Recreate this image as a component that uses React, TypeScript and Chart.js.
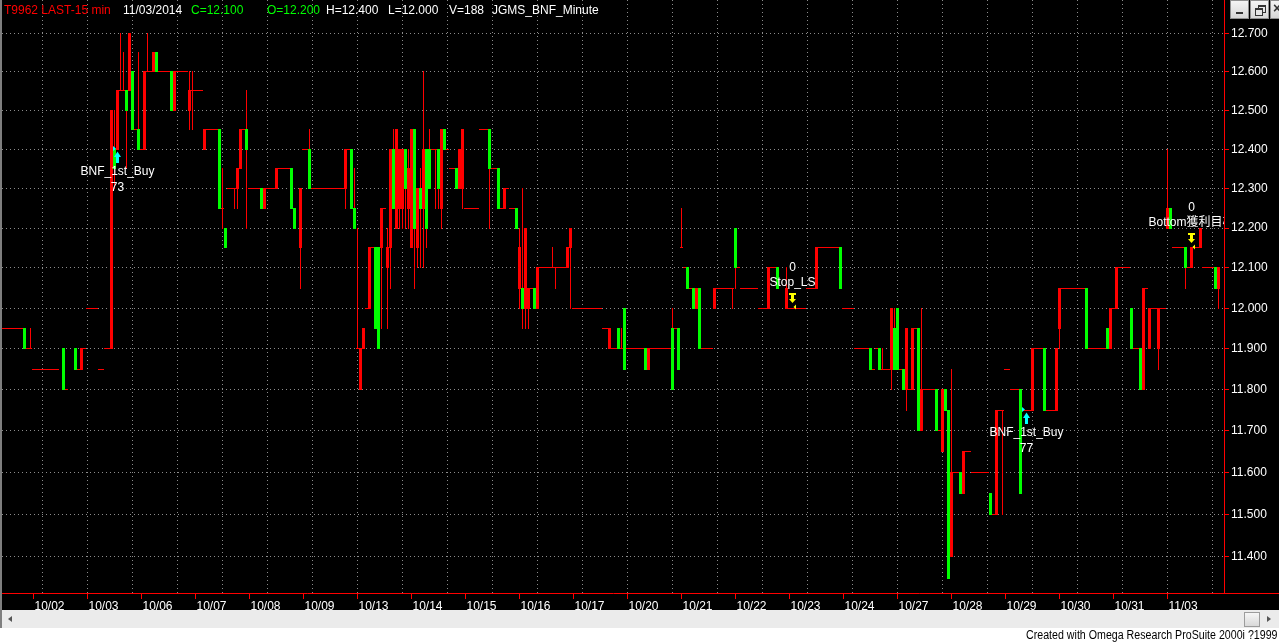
import React, { useEffect, useRef } from "react";
import { Chart, registerables } from "chart.js";

Chart.register(...registerables);

const W = 1279;
const H = 643;
const RED = "#ff0000";
const GREEN = "#00ff00";
const GRID = "#8c8c8c";
const FONT = '"Liberation Sans", Arial, "Noto Sans CJK TC", sans-serif';

// ---- axis data ----
const dayLabels = ["10/02", "10/03", "10/06", "10/07", "10/08", "10/09", "10/13", "10/14", "10/15", "10/16", "10/17",
  "10/20", "10/21", "10/22", "10/23", "10/24", "10/27", "10/28", "10/29", "10/30", "10/31", "11/03"];
const dayStartBars = [10, 28, 46, 64, 82, 100, 118, 136, 154, 172, 190, 208, 226, 244, 262, 280, 298, 316, 334, 352, 370, 388];
const gridBars = [13, 28, 43, 58, 73, 88, 103, 118, 133, 148, 163, 178, 193, 208, 223, 238, 253, 268, 283, 298, 313, 328, 343, 358, 373, 388, 403];
const priceTicks = [11.4, 11.5, 11.6, 11.7, 11.8, 11.9, 12.0, 12.1, 12.2, 12.3, 12.4, 12.5, 12.6, 12.7];
const priceMin = 11.3155;
const priceMax = 12.7875;
const barMin = -0.5;
const barMax = 406.8333;

// ---- 15-min bars (one line per trading day) ----
const opens = [
  11.95, 11.95, 11.95, 11.95, 11.95, 11.95, 11.95, 11.95, 11.90, 11.90,
  11.85, 11.85, 11.85, 11.85, 11.85, 11.85, 11.85, 11.85, 11.85, null, 11.90, 11.80, null, null, 11.90, 11.85, 11.85, 11.90,
  12.00, 12.00, 12.00, 12.00, 11.85, 11.85, 11.90, 11.90, 11.90, 12.40, 12.40, 12.55, 12.55, 12.55, 12.55, 12.60, 12.45, 12.45,
  12.40, 12.40, 12.60, 12.60, 12.60, 12.65, 12.60, 12.60, 12.60, 12.60, 12.60, 12.50, 12.60, 12.60, 12.60, 12.60, 12.50, 12.55,
  12.55, 12.55, 12.55, 12.40, 12.45, 12.45, 12.45, 12.45, 12.45, 12.25, 12.20, 12.30, 12.30, 12.30, 12.30, 12.35, 12.45, 12.45,
  12.30, 12.30, 12.30, 12.30, 12.30, 12.25, 12.30, 12.30, 12.30, 12.30, 12.35, 12.35, 12.35, 12.35, 12.35, 12.25, null, 12.15,
  12.40, 12.40, 12.40, 12.30, 12.30, 12.30, 12.30, 12.30, 12.30, 12.30, 12.30, 12.30, 12.30, 12.30, 12.30, 12.40, 12.40, 12.25,
  11.90, 11.80, 11.90, 12.00, 12.00, 12.15, 12.15, 12.15, 12.15, 12.25, 12.10, 12.15, 12.40, 12.20, 12.25, 12.25, 12.40, 12.25,
  12.15, 12.45, 12.15, 12.30, 12.25, 12.40, 12.40, 12.40, 12.40, 12.40, 12.25, 12.45, 12.40, 12.35, 12.35, 12.35, 12.30, 12.30,
  12.25, 12.25, 12.25, 12.25, 12.25, 12.45, 12.45, 12.45, 12.45, 12.35, 12.35, 12.35, 12.25, 12.25, 12.30, 12.25, 12.25, 12.25,
  12.05, 12.05, 12.00, 12.00, 12.05, 12.05, 12.00, 12.10, 12.10, 12.10, 12.10, 12.10, 12.10, 12.10, 12.10, 12.10, 12.10, 12.15,
  12.00, 12.00, 12.00, 12.00, 12.00, 12.00, 12.00, 12.00, 12.00, 12.00, 11.95, 11.95, 11.90, 11.90, 11.90, 11.95, 11.90, 12.00,
  11.90, 11.90, 11.90, 11.90, 11.90, 11.90, 11.90, 11.85, 11.90, 11.90, 11.90, 11.90, 11.90, 11.90, 11.90, 11.95, 11.95, 11.95,
  12.15, 12.10, 12.10, 12.05, 12.05, 12.00, 12.05, 11.90, 11.90, 11.90, 11.90, 12.00, 12.05, 12.05, 12.05, 12.05, 12.05, 12.05,
  12.20, 12.10, 12.05, 12.05, 12.05, 12.05, 12.05, 12.05, 12.00, 12.00, 12.00, 12.00, 12.10, 12.10, 12.10, null, null, 12.00,
  12.00, 12.00, 12.00, 12.00, 12.00, 12.00, 12.05, 12.05, 12.05, 12.05, 12.15, 12.15, 12.15, 12.15, 12.15, 12.15, 12.15, 12.15,
  12.00, 12.00, 12.00, 12.00, 11.90, 11.90, 11.90, 11.90, 11.90, 11.90, 11.85, 11.90, 11.90, 11.85, 11.85, 11.85, 11.85, 11.95,
  12.00, 11.85, 11.85, 11.80, 11.80, 11.80, 11.95, 11.95, 11.70, 11.80, 11.80, 11.80, 11.80, 11.80, 11.70, 11.65, 11.80, 11.75,
  11.40, 11.60, 11.60, 11.60, 11.55, 11.65, 11.65, 11.60, 11.60, 11.60, 11.60, 11.60, 11.60, 11.55, 11.50, 11.50, 11.75, 11.75,
  11.85, 11.85, 11.80, 11.80, 11.80, 11.80, 11.75, 11.75, 11.75, 11.75, 11.90, 11.90, 11.90, 11.90, 11.75, 11.75, 11.75, 11.75,
  11.95, 12.05, 12.05, 12.05, 12.05, 12.05, 12.05, 12.05, 12.05, 12.05, 11.90, 11.90, 11.90, 11.90, 11.90, 11.90, 11.95, 11.90,
  12.00, 12.00, 12.10, 12.10, 12.10, 12.10, 12.00, 11.90, 11.90, 11.90, 11.80, 12.05, 11.90, 12.00, 12.00, 11.90, 12.00, 12.00,
  12.20, 12.25, 12.15, 12.15, 12.15, 12.15, 12.15, 12.10, 12.10, 12.15, 12.15, 12.15, 12.10, 12.10, 12.10, 12.10, 12.10, 12.05,
];
const highs = [
  11.95, 11.95, 11.95, 11.95, 11.95, 11.95, 11.95, 11.95, 11.90, 11.95,
  11.85, 11.85, 11.85, 11.85, 11.85, 11.85, 11.85, 11.85, 11.85, null, 11.90, 11.80, null, null, 11.90, 11.85, 11.90, 11.90,
  12.00, 12.00, 12.00, 12.00, 11.85, 11.85, 11.90, 11.90, 12.50, 12.50, 12.55, 12.70, 12.65, 12.55, 12.70, 12.60, 12.45, 12.65,
  12.40, 12.60, 12.70, 12.60, 12.65, 12.65, 12.60, 12.60, 12.60, 12.60, 12.60, 12.60, 12.60, 12.60, 12.60, 12.60, 12.60, 12.60,
  12.55, 12.55, 12.55, 12.45, 12.45, 12.45, 12.45, 12.45, 12.45, 12.35, 12.20, 12.30, 12.30, 12.30, 12.35, 12.45, 12.45, 12.55,
  12.30, 12.30, 12.30, 12.30, 12.30, 12.30, 12.30, 12.30, 12.30, 12.35, 12.35, 12.35, 12.35, 12.35, 12.35, 12.25, null, 12.30,
  12.40, 12.40, 12.45, 12.30, 12.30, 12.30, 12.30, 12.30, 12.30, 12.30, 12.30, 12.30, 12.30, 12.30, 12.40, 12.40, 12.40, 12.35,
  12.20, 11.90, 11.95, 12.00, 12.15, 12.15, 12.15, 12.15, 12.25, 12.25, 12.20, 12.40, 12.45, 12.45, 12.40, 12.40, 12.40, 12.40,
  12.45, 12.45, 12.30, 12.35, 12.60, 12.40, 12.45, 12.40, 12.40, 12.40, 12.45, 12.45, 12.40, 12.35, 12.35, 12.35, 12.40, 12.45,
  12.25, 12.25, 12.25, 12.25, 12.25, 12.45, 12.45, 12.45, 12.45, 12.35, 12.35, 12.35, 12.25, 12.30, 12.30, 12.25, 12.25, 12.25,
  12.20, 12.30, 12.20, 12.05, 12.05, 12.05, 12.10, 12.10, 12.10, 12.10, 12.10, 12.15, 12.10, 12.10, 12.10, 12.10, 12.15, 12.20,
  12.00, 12.00, 12.00, 12.00, 12.00, 12.00, 12.00, 12.00, 12.00, 12.00, 11.95, 11.95, 11.95, 11.90, 11.90, 11.95, 11.95, 12.00,
  11.90, 11.90, 11.90, 11.90, 11.90, 11.90, 11.90, 11.90, 11.90, 11.90, 11.90, 11.90, 11.90, 11.90, 11.90, 12.00, 11.95, 11.95,
  12.25, 12.10, 12.10, 12.05, 12.05, 12.05, 12.05, 11.90, 11.90, 11.90, 11.90, 12.05, 12.05, 12.05, 12.05, 12.05, 12.05, 12.05,
  12.20, 12.10, 12.05, 12.05, 12.05, 12.05, 12.05, 12.05, 12.00, 12.00, 12.00, 12.10, 12.10, 12.10, 12.10, null, null, 12.10,
  12.00, 12.00, 12.00, 12.00, 12.00, 12.00, 12.05, 12.05, 12.05, 12.15, 12.15, 12.15, 12.15, 12.15, 12.15, 12.15, 12.15, 12.15,
  12.00, 12.00, 12.00, 12.00, 11.90, 11.90, 11.90, 11.90, 11.90, 11.90, 11.85, 11.90, 11.90, 11.90, 11.85, 11.85, 12.00, 12.00,
  12.00, 11.85, 11.85, 11.95, 11.80, 11.95, 11.95, 11.95, 12.00, 11.80, 11.80, 11.80, 11.80, 11.80, 11.70, 11.80, 11.80, 11.75,
  11.85, 11.60, 11.60, 11.60, 11.65, 11.65, 11.65, 11.60, 11.60, 11.60, 11.60, 11.60, 11.60, 11.55, 11.50, 11.75, 11.75, 11.75,
  11.85, 11.85, 11.80, 11.80, 11.80, 11.80, 11.75, 11.75, 11.75, 11.90, 11.90, 11.90, 11.90, 11.90, 11.75, 11.75, 11.75, 11.90,
  12.05, 12.05, 12.05, 12.05, 12.05, 12.05, 12.05, 12.05, 12.05, 12.05, 11.90, 11.90, 11.90, 11.90, 11.90, 11.90, 11.95, 12.00,
  12.00, 12.10, 12.10, 12.10, 12.10, 12.10, 12.00, 11.90, 11.90, 11.90, 12.05, 12.05, 12.00, 12.00, 12.00, 12.00, 12.00, 12.00,
  12.40, 12.25, 12.15, 12.15, 12.15, 12.15, 12.15, 12.10, 12.15, 12.15, 12.15, 12.20, 12.10, 12.10, 12.10, 12.10, 12.10, 12.10,
];
const lows = [
  11.95, 11.95, 11.95, 11.95, 11.95, 11.95, 11.95, 11.90, 11.90, 11.90,
  11.85, 11.85, 11.85, 11.85, 11.85, 11.85, 11.85, 11.85, 11.85, null, 11.80, 11.80, null, null, 11.85, 11.85, 11.85, 11.90,
  12.00, 12.00, 12.00, 12.00, 11.85, 11.85, 11.90, 11.90, 11.90, 12.30, 12.40, 12.55, 12.55, 12.35, 12.55, 12.45, 12.45, 12.40,
  12.40, 12.40, 12.60, 12.60, 12.60, 12.60, 12.60, 12.60, 12.60, 12.60, 12.50, 12.50, 12.60, 12.60, 12.60, 12.60, 12.45, 12.45,
  12.55, 12.55, 12.55, 12.40, 12.45, 12.45, 12.45, 12.45, 12.25, 12.20, 12.15, 12.30, 12.30, 12.25, 12.25, 12.35, 12.45, 12.20,
  12.30, 12.30, 12.30, 12.30, 12.25, 12.25, 12.30, 12.30, 12.30, 12.30, 12.35, 12.35, 12.35, 12.35, 12.25, 12.20, null, 12.05,
  12.40, 12.40, 12.30, 12.30, 12.30, 12.30, 12.30, 12.30, 12.30, 12.30, 12.30, 12.30, 12.30, 12.30, 12.25, 12.40, 12.25, 12.20,
  11.90, 11.80, 11.90, 12.00, 12.00, 12.15, 11.95, 11.90, 11.95, 12.25, 11.95, 12.05, 12.25, 12.20, 12.20, 12.20, 12.20, 12.20,
  12.15, 12.05, 12.10, 12.10, 12.10, 12.15, 12.30, 12.40, 12.25, 12.25, 12.20, 12.40, 12.40, 12.35, 12.35, 12.30, 12.30, 12.25,
  12.25, 12.25, 12.25, 12.25, 12.25, 12.45, 12.45, 12.45, 12.20, 12.35, 12.35, 12.25, 12.25, 12.25, 12.30, 12.25, 12.25, 12.20,
  12.00, 11.95, 11.95, 11.95, 12.05, 12.00, 12.00, 12.10, 12.10, 12.10, 12.10, 12.10, 12.05, 12.10, 12.10, 12.10, 12.10, 12.00,
  12.00, 12.00, 12.00, 12.00, 12.00, 12.00, 12.00, 12.00, 12.00, 12.00, 11.95, 11.95, 11.90, 11.90, 11.90, 11.90, 11.90, 11.85,
  11.90, 11.90, 11.90, 11.90, 11.90, 11.90, 11.85, 11.85, 11.90, 11.90, 11.90, 11.90, 11.90, 11.90, 11.90, 11.80, 11.95, 11.85,
  12.15, 12.10, 12.05, 12.05, 12.00, 12.00, 11.90, 11.90, 11.90, 11.90, 11.90, 12.00, 12.05, 12.05, 12.05, 12.05, 12.05, 12.00,
  12.05, 12.10, 12.05, 12.05, 12.05, 12.05, 12.05, 12.05, 12.00, 12.00, 12.00, 12.00, 12.10, 12.10, 12.05, null, null, 12.00,
  12.00, 12.00, 12.00, 12.00, 12.00, 12.00, 12.05, 12.05, 12.05, 12.05, 12.15, 12.15, 12.15, 12.15, 12.15, 12.15, 12.15, 12.05,
  12.00, 12.00, 12.00, 12.00, 11.90, 11.90, 11.90, 11.90, 11.90, 11.85, 11.85, 11.90, 11.85, 11.85, 11.85, 11.85, 11.80, 11.85,
  11.85, 11.85, 11.80, 11.75, 11.80, 11.80, 11.95, 11.70, 11.70, 11.80, 11.80, 11.80, 11.80, 11.70, 11.70, 11.65, 11.75, 11.35,
  11.40, 11.60, 11.60, 11.55, 11.55, 11.65, 11.65, 11.60, 11.60, 11.60, 11.60, 11.60, 11.60, 11.50, 11.50, 11.50, 11.75, 11.50,
  11.85, 11.85, 11.80, 11.80, 11.80, 11.55, 11.75, 11.75, 11.75, 11.75, 11.90, 11.90, 11.90, 11.75, 11.75, 11.75, 11.75, 11.75,
  11.90, 12.05, 12.05, 12.05, 12.05, 12.05, 12.05, 12.05, 12.05, 11.90, 11.90, 11.90, 11.90, 11.90, 11.90, 11.90, 11.90, 11.90,
  12.00, 12.00, 12.10, 12.10, 12.10, 12.10, 11.90, 11.90, 11.90, 11.80, 11.80, 12.05, 11.90, 12.00, 12.00, 11.85, 12.00, 12.00,
  12.20, 12.20, 12.15, 12.15, 12.15, 12.15, 12.05, 12.10, 12.10, 12.15, 12.15, 12.15, 12.10, 12.10, 12.10, 12.10, 12.05, 12.00,
];
const closes = [
  11.95, 11.95, 11.95, 11.95, 11.95, 11.95, 11.95, 11.90, 11.90, 11.90,
  11.85, 11.85, 11.85, 11.85, 11.85, 11.85, 11.85, 11.85, 11.85, null, 11.80, 11.80, null, null, 11.85, 11.85, 11.90, 11.90,
  12.00, 12.00, 12.00, 12.00, 11.85, 11.85, 11.90, 11.90, 12.50, 12.35, 12.55, 12.55, 12.55, 12.50, 12.70, 12.45, 12.45, 12.40,
  12.40, 12.60, 12.60, 12.60, 12.65, 12.60, 12.60, 12.60, 12.60, 12.60, 12.50, 12.60, 12.60, 12.60, 12.60, 12.60, 12.55, 12.55,
  12.55, 12.55, 12.55, 12.45, 12.45, 12.45, 12.45, 12.45, 12.25, 12.25, 12.15, 12.30, 12.30, 12.30, 12.35, 12.45, 12.45, 12.40,
  12.30, 12.30, 12.30, 12.30, 12.25, 12.30, 12.30, 12.30, 12.30, 12.35, 12.35, 12.35, 12.35, 12.35, 12.25, 12.20, null, 12.30,
  12.40, 12.40, 12.30, 12.30, 12.30, 12.30, 12.30, 12.30, 12.30, 12.30, 12.30, 12.30, 12.30, 12.30, 12.40, 12.40, 12.25, 12.20,
  11.90, 11.90, 11.95, 12.00, 12.15, 12.15, 11.95, 11.90, 12.25, 12.25, 12.15, 12.40, 12.25, 12.45, 12.40, 12.40, 12.30, 12.35,
  12.45, 12.20, 12.30, 12.25, 12.40, 12.20, 12.30, 12.40, 12.40, 12.30, 12.45, 12.40, 12.40, 12.35, 12.35, 12.30, 12.40, 12.45,
  12.25, 12.25, 12.25, 12.25, 12.25, 12.45, 12.45, 12.45, 12.35, 12.35, 12.35, 12.25, 12.25, 12.30, 12.30, 12.25, 12.25, 12.20,
  12.15, 12.00, 12.20, 12.05, 12.05, 12.00, 12.10, 12.10, 12.10, 12.10, 12.10, 12.10, 12.10, 12.10, 12.10, 12.10, 12.15, 12.20,
  12.00, 12.00, 12.00, 12.00, 12.00, 12.00, 12.00, 12.00, 12.00, 12.00, 11.95, 11.95, 11.95, 11.90, 11.90, 11.90, 11.90, 11.85,
  11.90, 11.90, 11.90, 11.90, 11.90, 11.90, 11.85, 11.90, 11.90, 11.90, 11.90, 11.90, 11.90, 11.90, 11.90, 11.80, 11.95, 11.85,
  12.15, 12.10, 12.05, 12.05, 12.00, 12.05, 11.90, 11.90, 11.90, 11.90, 11.90, 12.05, 12.05, 12.05, 12.05, 12.05, 12.05, 12.05,
  12.10, 12.10, 12.05, 12.05, 12.05, 12.05, 12.05, 12.05, 12.00, 12.00, 12.00, 12.10, 12.10, 12.10, 12.05, null, null, 12.05,
  12.00, 12.00, 12.00, 12.00, 12.00, 12.00, 12.05, 12.05, 12.05, 12.15, 12.15, 12.15, 12.15, 12.15, 12.15, 12.15, 12.15, 12.05,
  12.00, 12.00, 12.00, 12.00, 11.90, 11.90, 11.90, 11.90, 11.90, 11.85, 11.85, 11.90, 11.85, 11.85, 11.85, 11.85, 12.00, 11.85,
  11.85, 11.85, 11.80, 11.95, 11.80, 11.95, 11.95, 11.70, 11.80, 11.80, 11.80, 11.80, 11.80, 11.70, 11.70, 11.80, 11.75, 11.35,
  11.60, 11.60, 11.60, 11.55, 11.65, 11.65, 11.65, 11.60, 11.60, 11.60, 11.60, 11.60, 11.60, 11.50, 11.50, 11.75, 11.75, 11.75,
  11.85, 11.85, 11.80, 11.80, 11.80, 11.55, 11.75, 11.75, 11.75, 11.90, 11.90, 11.90, 11.90, 11.75, 11.75, 11.75, 11.75, 11.90,
  12.05, 12.05, 12.05, 12.05, 12.05, 12.05, 12.05, 12.05, 12.05, 11.90, 11.90, 11.90, 11.90, 11.90, 11.90, 11.90, 11.90, 12.00,
  12.00, 12.10, 12.10, 12.10, 12.10, 12.10, 11.90, 11.90, 11.90, 11.80, 12.05, 12.05, 12.00, 12.00, 12.00, 12.00, 12.00, 12.00,
  12.25, 12.20, 12.15, 12.15, 12.15, 12.15, 12.10, 12.10, 12.15, 12.15, 12.15, 12.20, 12.10, 12.10, 12.10, 12.10, 12.05, 12.10,
];

if ([opens, highs, lows, closes].some((a) => a.length !== 406)) {
  throw new Error("length mismatch " + [opens.length, highs.length, lows.length, closes.length].join(","));
}

// ---- strategy signals ----
const entryBars = [38, 341];
const entryPrices = [12.40, 11.75];
const entryNames = ["BNF_1st_Buy", "BNF_1st_Buy"];
const entryValues = ["73", "77"];
const exitBars = [263, 396];
const exitPrices = [12.00, 12.15];
const exitNames = ["Stop_LS", "Bottom獲利目標"];
const exitValues = ["0", "0"];

// ---- header ----
const headerTexts = ["T9962 LAST-15 min", "11/03/2014", "C=12.100", "O=12.200", "H=12.400", "L=12.000", "V=188", "JGMS_BNF_Minute"];
const headerColors = [RED, "#ffffff", GREEN, GREEN, "#ffffff", "#ffffff", "#ffffff", "#ffffff"];
const headerX = [4, 123, 191, 267, 326, 388, 449, 492];

const daySet = new Set(dayStartBars);
const gridSet = new Set(gridBars);
const xTickValues = Array.from(new Set([...dayStartBars, ...gridBars])).sort((a, b) => a - b);

function buildDatasets() {
  const bodyData: any[] = [];
  const bodyColors: string[] = [];
  const wickData: any[] = [];
  for (let i = 0; i < opens.length; i++) {
    const o = opens[i];
    const c = closes[i];
    const h = highs[i];
    const l = lows[i];
    if (o == null || c == null || h == null || l == null) continue;
    bodyData.push({ x: i, y: [Math.min(o, c), Math.max(o, c)] });
    bodyColors.push(c < o ? GREEN : RED);
    wickData.push({ x: i, y: [l, h] });
  }
  return { bodyData, bodyColors, wickData };
}

const crispBars = {
  id: "crispBars",
  afterDatasetsUpdate(chart: any) {
    const ys = chart.scales.y;
    chart.data.datasets.forEach((ds: any, di: number) => {
      const meta = chart.getDatasetMeta(di);
      meta.data.forEach((el: any, j: number) => {
        const pt = ds.data[j];
        if (!pt || !pt.y) return;
        const top = Math.round(ys.getPixelForValue(pt.y[1]) - 0.5);
        const bottom = Math.round(ys.getPixelForValue(pt.y[0]) - 0.5) + 1;
        el.y = top;
        el.base = bottom;
        const w = el.width;
        el.x = Math.round(el.x - w / 2) + w / 2;
      });
    });
  },
};

const chrome = {
  id: "chrome",
  beforeDraw(chart: any) {
    const ctx = chart.ctx;
    ctx.save();
    ctx.fillStyle = "#000000";
    ctx.fillRect(0, 0, W, 610);
    ctx.fillStyle = "#7f7f7f";
    ctx.fillRect(0, 0, 2, 610);
    ctx.restore();
  },
  afterDatasetsDraw(chart: any) {
    const { ctx, chartArea: ca, scales } = chart;
    const xs = scales.x;
    const ys = scales.y;
    ctx.save();
    ctx.beginPath();
    ctx.rect(ca.left, ca.top, ca.right - ca.left, ca.bottom - ca.top);
    ctx.clip();
    ctx.font = `12px ${FONT}`;
    ctx.textAlign = "center";
    ctx.textBaseline = "middle";
    for (let k = 0; k < entryBars.length; k++) {
      const c = Math.floor(xs.getPixelForValue(entryBars[k]));
      const y = Math.round(ys.getPixelForValue(entryPrices[k]));
      ctx.fillStyle = "#00ffff";
      ctx.beginPath();
      ctx.moveTo(c - 4, y - 3);
      ctx.lineTo(c - 4, y + 2);
      ctx.lineTo(c - 1, y - 0.5);
      ctx.closePath();
      ctx.fill();
      ctx.beginPath();
      ctx.moveTo(c + 0.5, y + 2.5);
      ctx.lineTo(c + 4, y + 8);
      ctx.lineTo(c - 3, y + 8);
      ctx.closePath();
      ctx.fill();
      ctx.fillRect(c - 1, y + 8, 3, 6);
      ctx.fillStyle = "#ffffff";
      ctx.fillText(entryNames[k], c + 0.5, y + 23);
      ctx.fillText(entryValues[k], c + 0.5, y + 39);
    }
    for (let k = 0; k < exitBars.length; k++) {
      const c = Math.floor(xs.getPixelForValue(exitBars[k]));
      const y = Math.round(ys.getPixelForValue(exitPrices[k]));
      ctx.fillStyle = "#ffff00";
      ctx.fillRect(c - 3, y - 15, 7, 2);
      ctx.fillRect(c - 1, y - 13, 3, 4);
      ctx.beginPath();
      ctx.moveTo(c - 3, y - 9);
      ctx.lineTo(c + 4, y - 9);
      ctx.lineTo(c + 0.5, y - 5);
      ctx.closePath();
      ctx.fill();
      ctx.beginPath();
      ctx.moveTo(c + 4, y - 3.5);
      ctx.lineTo(c + 4, y + 1.5);
      ctx.lineTo(c + 1.5, y - 1);
      ctx.closePath();
      ctx.fill();
      ctx.fillStyle = "#ffffff";
      ctx.fillText(exitNames[k], c + 0.5, y - 25);
      ctx.fillText(exitValues[k], c + 0.5, y - 40);
    }
    ctx.restore();
  },
  afterDraw(chart: any) {
    const { ctx, chartArea: ca } = chart;
    ctx.save();
    ctx.fillStyle = RED;
    ctx.fillRect(ca.right, Math.floor(ca.bottom), W - ca.right, 1);
    ctx.font = `12px ${FONT}`;
    ctx.textAlign = "left";
    ctx.textBaseline = "middle";
    for (let k = 0; k < headerTexts.length; k++) {
      ctx.fillStyle = headerColors[k];
      ctx.fillText(headerTexts[k], headerX[k], 10.5);
    }
    ctx.restore();
  },
};

export default function App() {
  const ref = useRef<HTMLCanvasElement | null>(null);
  useEffect(() => {
    document.body.style.margin = "0";
    const canvas = ref.current;
    if (!canvas) return;
    const { bodyData, bodyColors, wickData } = buildDatasets();
    const chart = new Chart(canvas, {
      type: "bar",
      data: {
        datasets: [
          {
            label: "body",
            data: bodyData,
            backgroundColor: bodyColors,
            barThickness: 3,
            grouped: false,
            inflateAmount: 0,
            borderWidth: 0,
            order: 0,
          } as any,
          {
            label: "wick",
            data: wickData,
            backgroundColor: RED,
            barThickness: 1,
            grouped: false,
            inflateAmount: 0,
            borderWidth: 0,
            order: 1,
          } as any,
        ],
      },
      options: {
        animation: false,
        responsive: false,
        devicePixelRatio: 1,
        events: [],
        layout: { padding: { left: 2, right: 0, top: 0, bottom: 0 } },
        plugins: { legend: { display: false }, tooltip: { enabled: false }, title: { display: false } },
        scales: {
          x: {
            type: "linear",
            position: "bottom",
            min: barMin,
            max: barMax,
            offset: false,
            afterBuildTicks: (s: any) => {
              s.ticks = xTickValues.map((v) => ({ value: v }));
            },
            afterFit: (s: any) => {
              s.height = 50;
              s.paddingLeft = 0;
              s.paddingRight = 0;
            },
            grid: {
              offset: false,
              drawOnChartArea: true,
              drawTicks: true,
              tickLength: 6,
              lineWidth: 1,
              color: (c: any) => (c.tick && gridSet.has(c.tick.value) ? GRID : "rgba(0,0,0,0)"),
              tickColor: (c: any) => (c.tick && daySet.has(c.tick.value) ? RED : "rgba(0,0,0,0)"),
            },
            border: { display: true, color: RED, width: 1, dash: [1, 3] },
            ticks: {
              autoSkip: false,
              maxRotation: 0,
              minRotation: 0,
              align: "start",
              color: "#ffffff",
              font: { family: FONT, size: 12 },
              padding: 0,
              labelOffset: 1,
              callback: (v: any) => {
                const k = dayStartBars.indexOf(Number(v));
                return k >= 0 ? dayLabels[k] : "";
              },
            },
          } as any,
          y: {
            type: "logarithmic",
            position: "right",
            min: priceMin,
            max: priceMax,
            beginAtZero: false,
            afterBuildTicks: (s: any) => {
              s.ticks = priceTicks.map((v) => ({ value: v }));
            },
            afterFit: (s: any) => {
              s.width = 55;
              s.paddingTop = 0;
              s.paddingBottom = 0;
            },
            grid: { color: GRID, tickColor: RED, tickLength: 5, drawTicks: true, lineWidth: 1 },
            border: { display: true, color: RED, width: 1, dash: [1, 3] },
            ticks: {
              autoSkip: false,
              color: "#ffffff",
              font: { family: FONT, size: 12 },
              padding: 2,
              callback: (v: any) => Number(v).toFixed(3),
            },
          } as any,
        },
      },
      plugins: [crispBars, chrome],
    } as any);
    return () => chart.destroy();
  }, []);

  const btn: React.CSSProperties = {
    position: "absolute",
    top: 0,
    height: 19,
    background: "linear-gradient(#f4f4f4, #d6d6d6)",
    border: "1px solid #8f8f8f",
    boxSizing: "border-box",
    overflow: "hidden",
  };

  return (
    <div style={{ position: "relative", width: W, height: H, background: "#ffffff", overflow: "hidden" }}>
      <canvas ref={ref} width={W} height={H} style={{ position: "absolute", left: 0, top: 0, width: W, height: H }} />
      <div style={{ ...btn, left: 1230, width: 19 }}>
        <div style={{ position: "absolute", left: 5, top: 11, width: 7, height: 2, background: "#333" }} />
      </div>
      <div style={{ ...btn, left: 1250, width: 19 }}>
        <div style={{ position: "absolute", left: 7, top: 4, width: 6, height: 5, border: "1px solid #333", borderTopWidth: 2 }} />
        <div style={{ position: "absolute", left: 4, top: 7, width: 6, height: 5, border: "1px solid #333", borderTopWidth: 2, background: "#e4e4e4" }} />
      </div>
      <div style={{ ...btn, left: 1270, width: 19 }}>
        <div style={{ position: "absolute", left: 2, top: -1, fontFamily: FONT, fontSize: 14, fontWeight: "bold", color: "#333" }}>×</div>
      </div>
      <div
        style={{
          position: "absolute",
          left: 0,
          top: 610,
          width: W,
          height: 18,
          background: "#ebebeb",
          borderLeft: "2px solid #7f7f7f",
          boxSizing: "border-box",
        }}
      >
        <div style={{ position: "absolute", left: 6, top: 6, width: 0, height: 0, borderTop: "3px solid transparent", borderBottom: "3px solid transparent", borderRight: "4px solid #555" }} />
        <div style={{ position: "absolute", left: 1242, top: 2, width: 16, height: 15, background: "linear-gradient(#f6f6f6, #d9d9d9)", border: "1px solid #9c9c9c", boxSizing: "border-box" }} />
        <div style={{ position: "absolute", left: 1265, top: 6, width: 0, height: 0, borderTop: "3px solid transparent", borderBottom: "3px solid transparent", borderLeft: "4px solid #555" }} />
      </div>
      <div
        style={{
          position: "absolute",
          right: 2,
          top: 628,
          fontFamily: FONT,
          fontSize: 12,
          lineHeight: "15px",
          color: "#000",
          whiteSpace: "nowrap",
          transform: "scaleX(0.887)",
          transformOrigin: "right center",
        }}
      >
        Created with Omega Research ProSuite 2000i ?1999
      </div>
    </div>
  );
}
